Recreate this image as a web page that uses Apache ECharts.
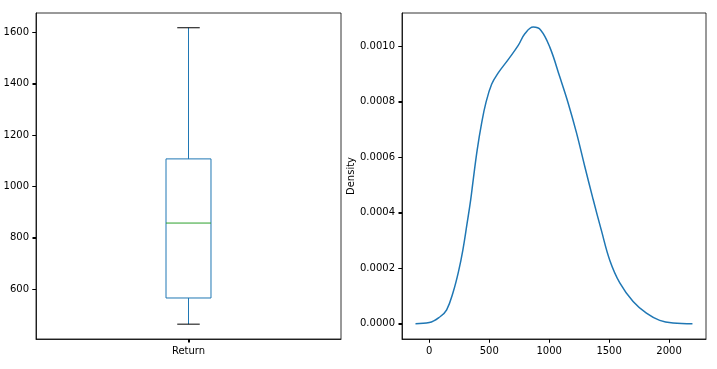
<!DOCTYPE html>
<html>
<head>
<meta charset="utf-8">
<script src="https://cdn.jsdelivr.net/npm/echarts@6/dist/echarts.min.js"></script>
<style>
html,body{margin:0;padding:0;background:#fff;}
#c{width:717px;height:369px;}
</style>
</head>
<body>
<div id="c"></div>
<script>
// ---- data ----
var boxCategories = ['Return'];
// [whiskerLow, Q1, median, Q3, whiskerHigh]
var boxStats = [[463, 565, 857, 1107, 1618]];
var boxTicks = [600, 800, 1000, 1200, 1400, 1600];

var kdeX = [-115, 0, 90, 145, 200, 245, 280, 315, 345, 367, 400, 437, 472, 520, 575, 658, 742, 797, 867, 930, 1006, 1089, 1158, 1228, 1297, 1367, 1436, 1506, 1589, 1700, 1811, 1922, 2033, 2195];
var kdeY = [0, 0.000004, 0.000025, 0.00005, 0.000115, 0.00019, 0.000265, 0.00036, 0.000445, 0.00052, 0.000627, 0.000723, 0.000795, 0.000862, 0.000903, 0.000951, 0.001002, 0.001044, 0.001068, 0.001057, 0.000995, 0.000888, 0.000795, 0.000687, 0.000566, 0.000447, 0.000335, 0.000228, 0.000147, 0.00008, 0.000038, 0.000012, 0.0000025, 0];
var kdeXTicks = [0, 500, 1000, 1500, 2000];
var kdeYTicks = [0, 0.0002, 0.0004, 0.0006, 0.0008, 0.0010];

// ---- chart ----
var FONT = 'DejaVu Sans';
var TICK = 3.5;
var chart = echarts.init(document.getElementById('c'), null, {renderer: 'canvas'});

var kdeData = kdeX.map(function (x, i) { return [x, kdeY[i]]; });
var boxData = boxStats.map(function (s, i) { return [i].concat(s); });

var tickStyle = {show: true, length: TICK, inside: false, lineStyle: {color: '#000', width: 1}};
var labelStyle = {color: '#000', fontFamily: FONT, fontSize: 10, margin: 7};
var axLine = {show: true, onZero: false, lineStyle: {color: '#000', width: 0.8}};
function plain(v) { return String(v); }

// tick marks drawn through the axes' own scales (custom series)
function tickSeries(xi, yi, values, dir) {
  return {
    type: 'custom', xAxisIndex: xi, yAxisIndex: yi, clip: false, silent: true, z: 5,
    data: values.map(function (v) { return [v]; }),
    renderItem: function (params, api) {
      var cs = params.coordSys;
      var v = api.value(0);
      var x1, y1, x2, y2;
      if (dir === 'y') {
        var p = api.coord([dir === 'y' && xi === 0 ? 0 : 0, v]);
        x1 = cs.x - TICK; x2 = cs.x; y1 = y2 = Math.round(p[1]) + 0.5;
      } else {
        var q = api.coord([v, api.value(0) * 0 + (yi === 0 ? 1000 : 0)]);
        y1 = cs.y + cs.height; y2 = y1 + TICK; x1 = x2 = Math.round(q[0]) + 0.5;
      }
      return {type: 'line', shape: {x1: x1, y1: y1, x2: x2, y2: y2}, style: {stroke: '#000', lineWidth: 1}};
    }
  };
}

var option = {
  animation: false,
  backgroundColor: '#fff',
  grid: [
    {left: 36, right: 376, top: 13, bottom: 30, show: true, borderColor: '#000', borderWidth: 0.8, containLabel: false},
    {left: 402, right: 11, top: 13, bottom: 30, show: true, borderColor: '#000', borderWidth: 0.8, containLabel: false}
  ],
  xAxis: [
    {
      gridIndex: 0, type: 'category', data: boxCategories, position: 'bottom',
      axisLine: axLine, splitLine: {show: false},
      axisTick: {show: true, alignWithLabel: true, length: TICK, lineStyle: {color: '#000', width: 1}},
      axisLabel: labelStyle
    },
    {
      gridIndex: 1, type: 'value', min: -227.5, max: 2308, position: 'bottom',
      axisLine: axLine, splitLine: {show: false},
      axisTick: Object.assign({customValues: kdeXTicks}, tickStyle),
      axisLabel: Object.assign({customValues: kdeXTicks, formatter: plain}, labelStyle)
    }
  ],
  yAxis: [
    {
      gridIndex: 0, type: 'value', min: 405.2, max: 1675.5, position: 'left',
      axisLine: axLine, splitLine: {show: false},
      axisTick: Object.assign({customValues: boxTicks}, tickStyle),
      axisLabel: Object.assign({customValues: boxTicks, formatter: plain}, labelStyle)
    },
    {
      gridIndex: 1, type: 'value', min: -0.0000551, max: 0.0011188, position: 'left',
      name: 'Density', nameLocation: 'middle', nameGap: 46, nameRotate: 90,
      nameTextStyle: {color: '#000', fontFamily: FONT, fontSize: 10},
      axisLine: axLine, splitLine: {show: false},
      axisTick: Object.assign({customValues: kdeYTicks}, tickStyle),
      axisLabel: Object.assign({customValues: kdeYTicks, formatter: function (v) { return v.toFixed(4); }}, labelStyle)
    }
  ],
  series: [
    {
      type: 'custom', xAxisIndex: 0, yAxisIndex: 0,
      data: boxData,
      renderItem: function (params, api) {
        var idx = api.value(0);
        var band = api.size([1, 0])[0];
        var hw = band * 0.1475 / 2;
        var cw = hw / 2;
        var lo = api.coord([idx, api.value(1)]);
        var q1 = api.coord([idx, api.value(2)]);
        var md = api.coord([idx, api.value(3)]);
        var q3 = api.coord([idx, api.value(4)]);
        var hi = api.coord([idx, api.value(5)]);
        var cx = lo[0];
        var blue = '#1f77b4';
        function line(x1, y1, x2, y2, c) {
          return {type: 'line', shape: {x1: x1, y1: y1, x2: x2, y2: y2}, style: {stroke: c, lineWidth: 1}};
        }
        return {
          type: 'group',
          children: [
            {type: 'rect', shape: {x: cx - hw, y: q3[1], width: hw * 2, height: q1[1] - q3[1]}, style: {fill: null, stroke: blue, lineWidth: 1}},
            line(cx - hw, md[1], cx + hw, md[1], '#2ca02c'),
            line(cx, q3[1], cx, hi[1], blue),
            line(cx, q1[1], cx, lo[1], blue),
            line(cx - cw, hi[1], cx + cw, hi[1], '#000'),
            line(cx - cw, lo[1], cx + cw, lo[1], '#000')
          ]
        };
      }
    },
    {
      type: 'line', xAxisIndex: 1, yAxisIndex: 1,
      data: kdeData, smooth: 0.4, showSymbol: false,
      lineStyle: {color: '#1f77b4', width: 1.5}
    },
    tickSeries(0, 0, boxTicks, 'y'),
    tickSeries(0, 0, [0], 'x'),
    tickSeries(1, 1, kdeXTicks, 'x'),
    tickSeries(1, 1, kdeYTicks, 'y')
  ]
};
chart.setOption(option);
</script>
</body>
</html>
